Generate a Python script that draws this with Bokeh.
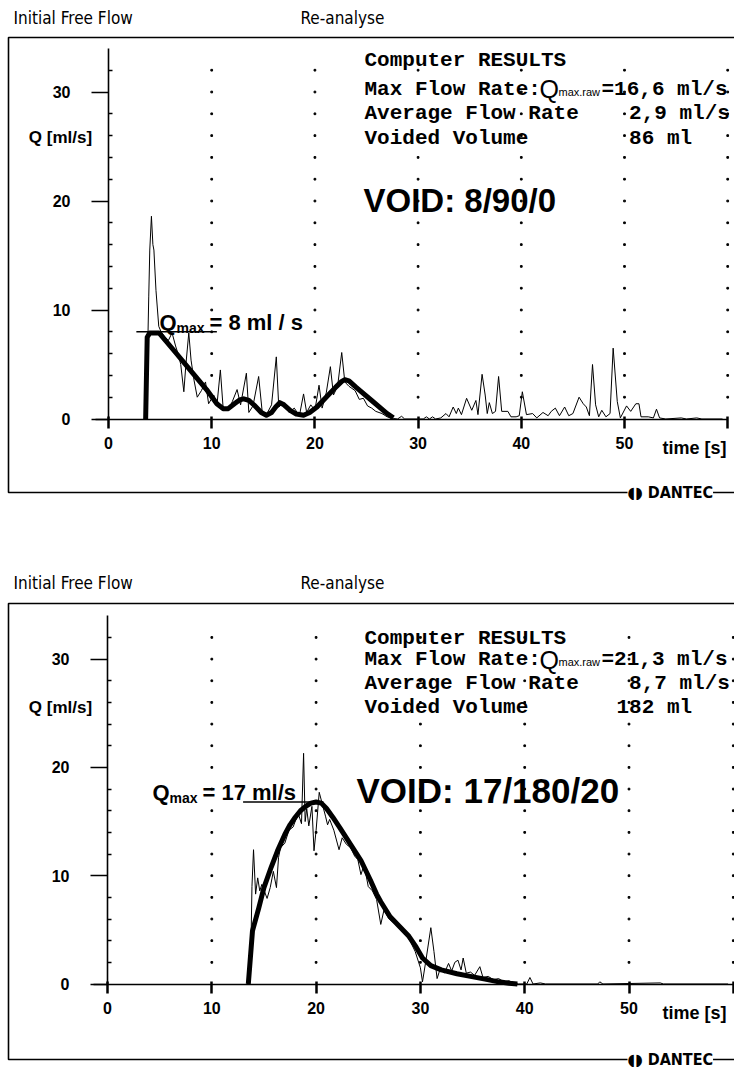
from bokeh.plotting import figure
from bokeh.layouts import column
from bokeh.models import Label, FixedTicker, Range1d, BoxAnnotation
from bokeh.embed import file_html
from bokeh.resources import INLINE

# ---------------- data: panel 1 (VOID 8/90/0) ----------------
raw1_t = [3.5, 3.7, 3.8, 3.9, 4.0, 4.16, 4.3, 4.4, 4.6, 4.87, 5.1, 5.4, 5.8, 6.16, 6.5, 6.8,
          7.0, 7.3, 7.5, 7.78, 8.0, 8.3, 8.6, 9.0, 9.4, 9.7, 10.2, 10.5, 10.84, 11.1, 11.6,
          12.0, 12.46, 12.8, 13.36, 13.6, 14.0, 14.55, 14.9, 15.3, 15.8, 16.26, 16.5, 17.0,
          17.5, 18.0, 18.5, 18.9, 19.2, 19.6, 20.0, 20.4, 20.7, 21.1, 21.5, 21.8, 22.2, 22.6,
          22.9, 23.3, 23.9, 24.3, 24.7, 25.1, 25.5, 25.9, 26.5, 27.0, 27.6, 28.0, 28.4, 28.7,
          30.5, 30.8, 31.1, 31.4, 31.7, 32.2, 32.7, 33.0, 33.4, 33.7, 33.9, 34.2, 34.7, 35.2,
          35.6, 35.8, 36.2, 36.5, 36.7, 36.9, 37.2, 37.5, 37.8, 38.1, 38.7, 39.0, 39.5, 39.8,
          40.1, 40.5, 41.1, 41.5, 42.1, 42.6, 42.9, 43.3, 43.7, 44.2, 44.6, 45.0, 45.6, 46.0,
          46.3, 46.6, 46.9, 47.2, 47.5, 47.8, 48.2, 48.6, 48.9, 49.3, 49.6, 50.2, 50.6, 51.1,
          51.4, 51.6, 52.3, 52.8, 53.1, 53.4, 54.0, 55.5, 56.0, 57.0, 57.5, 59.5]
raw1_q = [0.0, 0.3, 6.5, 11.2, 15.5, 18.6, 16.0, 15.5, 11.8, 8.5, 8.0, 7.6, 7.2, 7.9, 6.7, 5.8,
          5.0, 2.5, 5.0, 7.9, 5.4, 3.5, 2.0, 2.6, 3.4, 1.4, 2.2, 1.2, 4.5, 1.1, 0.8,
          1.6, 2.7, 1.3, 4.2, 0.6, 1.2, 3.9, 0.6, 0.4, 1.3, 5.7, 1.1, 1.5,
          0.6, 1.0, 0.3, 2.3, 0.6, 1.3, 0.8, 3.1, 1.0, 2.4, 4.8, 2.2, 3.0, 6.1,
          3.4, 3.0, 2.6, 1.8, 1.9, 1.2, 1.0, 0.7, 0.5, 0.2, 0.05, 0.0, 0.25, 0.0,
          0.0, 0.2, 0.0, 0.2, 0.0, 0.1, 0.5, 0.2, 1.1, 0.5, 1.0, 0.4, 1.9, 0.8,
          1.7, 0.4, 4.1, 2.2, 0.5, 1.5, 0.5, 0.7, 3.9, 0.7, 0.7, 0.2, 0.2, 0.3,
          2.5, 0.4, 0.5, 0.1, 0.6, 0.3, 0.7, 1.0, 0.3, 1.1, 0.3, 0.5, 2.0, 1.4,
          1.1, 0.3, 5.0, 1.3, 0.2, 0.8, 0.2, 0.5, 6.5, 1.6, 0.1, 1.2, 0.7, 1.4,
          1.4, 0.2, 0.2, 0.1, 0.9, 0.1, 0.0, 0.1, 0.0, 0.1, 0.0, 0.0]
fit1_t = [3.6, 3.75, 4.0, 4.9, 6.5, 8.0, 9.5, 10.5, 11.1, 11.6, 12.2, 12.7, 13.1, 13.6, 14.2,
          14.8, 15.3, 15.8, 16.2, 16.6, 17.0, 17.6, 18.2, 18.9, 19.5, 20.2, 21.0, 22.0, 22.6,
          22.9, 23.3, 24.0, 25.5, 27.0, 27.6]
fit1_q = [0.0, 7.5, 7.9, 7.9, 6.1, 4.4, 2.7, 1.4, 0.95, 0.95, 1.4, 1.75, 1.85, 1.7, 1.2,
          0.6, 0.35, 0.6, 1.1, 1.5, 1.3, 0.8, 0.45, 0.35, 0.6, 1.1, 1.9, 2.9, 3.45,
          3.6, 3.5, 2.9, 1.7, 0.5, 0.1]
qmax1_t = [2.7, 10.5]
qmax1_q = [8.0, 8.0]

# ---------------- data: panel 2 (VOID 17/180/20) ----------------
raw2_t = [13.4, 13.7, 13.85, 14.0, 14.2, 14.4, 14.6, 14.8, 15.3, 15.6, 15.9, 16.2, 16.4, 16.6,
          17.0, 17.4, 17.8, 18.1, 18.3, 18.6, 18.8, 18.95, 19.1, 19.3, 19.6, 19.8, 20.0, 20.3,
          20.6, 20.9, 21.1, 21.3, 21.7, 22.2, 22.5, 22.9, 23.3, 23.7, 24.0, 24.3, 24.6, 25.0,
          25.4, 25.8, 26.2, 26.5, 27.0, 27.5, 28.0, 28.5, 29.0, 29.5, 30.0, 30.2, 30.5, 31.0,
          31.3, 31.6, 31.9, 32.3, 32.7, 33.0, 33.3, 33.6, 33.9, 34.1, 34.4, 34.8, 35.2, 35.7,
          36.0, 36.5, 37.0, 37.5, 38.0, 38.5, 39.0, 39.4, 40.2, 40.5, 40.8, 41.5, 42.0, 47.0,
          47.2, 47.5, 53.0, 53.3, 59.5]
raw2_q = [0.0, 0.5, 9.0, 12.4, 8.3, 9.8, 8.6, 9.2, 7.9, 8.9, 10.4, 8.9, 11.7, 12.6,
          13.0, 14.2, 14.5, 15.3, 15.7, 14.8, 21.3, 15.0, 16.2, 14.6, 16.4, 12.3, 14.2, 17.7,
          16.6, 15.5, 14.7, 15.2, 14.2, 12.4, 13.5, 12.9, 12.6, 11.8, 11.5, 10.1, 11.0, 9.0,
          8.6, 7.8, 5.5, 6.8, 6.0, 5.6, 5.1, 4.7, 4.0, 3.0, 1.5, 0.2, 2.0, 5.2,
          3.0, 0.5, 1.4, 1.0, 1.9, 1.2, 2.0, 2.2, 1.3, 2.4, 1.0, 1.1, 0.8, 1.6,
          0.6, 0.7, 0.4, 0.5, 0.2, 0.3, 0.1, 0.0, 0.0, 0.6, 0.0, 0.1, 0.0, 0.0,
          0.2, 0.0, 0.1, 0.0, 0.0]
fit2_t = [13.5, 13.9, 14.5, 15.0, 15.7, 16.3, 17.0, 17.5, 18.0, 18.5, 19.0, 19.5, 20.0, 20.5,
          21.0, 21.6, 22.3, 23.3, 24.3, 25.2, 25.8, 26.2, 27.1, 28.0, 28.9, 29.6, 30.2, 31.0,
          32.0, 33.5, 34.8, 36.2, 37.5, 38.5, 39.3]
fit2_q = [0.0, 4.9, 7.0, 8.9, 10.8, 12.3, 13.8, 14.7, 15.4, 16.0, 16.4, 16.7, 16.8, 16.7,
          16.2, 15.4, 14.4, 12.9, 11.4, 9.6, 8.3, 7.6, 6.2, 5.3, 4.4, 3.4, 2.4, 1.7,
          1.3, 0.95, 0.7, 0.45, 0.2, 0.07, 0.0]
qmax2_t = [13.0, 20.7]
qmax2_q = [16.8, 16.8]

# ---------------- tick / text content ----------------
x_ticks = [0, 10, 20, 30, 40, 50, 60]
y_ticks = [0, 10, 20, 30]
y_minor = [2, 4, 6, 8, 12, 14, 16, 18, 22, 24, 26, 28, 32]
grid_t = [10, 20, 30, 40, 50, 60]
grid_q = [2, 4, 6, 8, 10, 12, 14, 16, 18, 20, 22, 24, 26, 28, 30, 32]

panels = [
    dict(raw_t=raw1_t, raw_q=raw1_q, fit_t=fit1_t, fit_q=fit1_q, qm_t=qmax1_t, qm_q=qmax1_q,
         qmax_text="= 8 ml / s", maxraw="=16,6 ml/s", avg="2,9 ml/s", vol="86 ml",
         void="VOID: 8/90/0", void_size=33,
         X0=108.0, SX=10.32, Y0=418.5, SY=10.9, fig_top=0, H=568, btop=37, bbot=492,
         rows=[60.0, 88.5, 113.0, 138.0], vol_x=628.6, void_x=363, void_y=200,
         qm_x=159, qm_y=322, ylab_y=137, xlab_y=447, head_y=17),
    dict(raw_t=raw2_t, raw_q=raw2_q, fit_t=fit2_t, fit_q=fit2_q, qm_t=qmax2_t, qm_q=qmax2_q,
         qmax_text="= 17 ml/s", maxraw="=21,3 ml/s", avg="8,7 ml/s", vol="182 ml",
         void="VOID: 17/180/20", void_size=35,
         X0=107.0, SX=10.43, Y0=983.5, SY=10.83, fig_top=568, H=500, btop=603, bbot=1059,
         rows=[638.0, 659.0, 683.0, 707.0], vol_x=616.0, void_x=356, void_y=790,
         qm_x=152, qm_y=792, ylab_y=707, xlab_y=1012, head_y=582.5),
]

MONO = "Liberation Mono, Courier New, monospace"
SANS = "Liberation Sans, Arial, sans-serif"
COND = "DejaVu Sans Condensed, Liberation Sans Narrow, DejaVu Sans, sans-serif"

WIDTH = 734


def build(pp):
    X0, SX, Y0, SY = pp["X0"], pp["SX"], pp["Y0"], pp["SY"]

    def dx(px):
        return (px - X0) / SX

    def dy(py):
        return (Y0 - py) / SY

    p = figure(width=WIDTH, height=pp["H"], output_backend="svg", toolbar_location=None,
               x_range=Range1d(dx(0), dx(WIDTH)),
               y_range=Range1d(dy(pp["fig_top"] + pp["H"]), dy(pp["fig_top"])),
               min_border_left=0, min_border_right=0, min_border_top=0, min_border_bottom=0,
               background_fill_color="white", border_fill_color="white")
    p.outline_line_color = None
    p.xgrid.visible = False
    p.ygrid.visible = False

    # panel box (frame of the printout)
    p.add_layout(BoxAnnotation(left=dx(8), right=dx(WIDTH + 20), top=dy(pp["btop"]),
                               bottom=dy(pp["bbot"]), fill_color=None, fill_alpha=0,
                               line_color="black", line_alpha=1.0, line_width=1.6,
                               level="underlay"))

    # axes inside the frame
    xa = p.xaxis[0]
    xa.fixed_location = 0
    xa.bounds = (-1.3, 60)
    xa.ticker = FixedTicker(ticks=x_ticks)
    xa.major_label_overrides = {60: ""}
    xa.axis_line_width = 1.6
    xa.major_tick_out = 9
    xa.major_tick_in = 3
    xa.major_tick_line_width = 2.5
    xa.minor_tick_out = 0
    xa.minor_tick_in = 0
    xa.major_label_standoff = 9
    xa.major_label_text_font = SANS
    xa.major_label_text_font_style = "bold"
    xa.major_label_text_font_size = "16px"
    xa.major_label_text_color = "black"

    ya = p.yaxis[0]
    ya.fixed_location = 0
    ya.bounds = (0, 34)
    ya.ticker = FixedTicker(ticks=y_ticks, minor_ticks=y_minor)
    ya.axis_line_width = 1.6
    ya.major_tick_out = 17
    ya.major_tick_in = 0
    ya.major_tick_line_width = 1.6
    ya.minor_tick_out = 0
    ya.minor_tick_in = 4
    ya.minor_tick_line_width = 1.3
    ya.major_label_standoff = 21
    ya.major_label_text_font = SANS
    ya.major_label_text_font_style = "bold"
    ya.major_label_text_font_size = "16px"
    ya.major_label_text_color = "black"

    # dotted grid columns
    gx = [t for t in grid_t for _ in grid_q]
    gy = [q for _ in grid_t for q in grid_q]
    p.scatter(gx, gy, marker="square", size=1.7, color="black")

    # curves
    p.line(pp["raw_t"], pp["raw_q"], line_color="black", line_width=1.0)
    p.line(pp["fit_t"], pp["fit_q"], line_color="black", line_width=5.0, line_join="round")
    p.line(pp["qm_t"], pp["qm_q"], line_color="black", line_width=1.6)

    def lab(px, py, text, font, size, style="normal", align="left", bg=None):
        kw = {}
        if bg is not None:
            kw = dict(background_fill_color=bg, background_fill_alpha=1.0)
        p.add_layout(Label(x=dx(px), y=dy(py), text=text, text_font=font,
                           text_font_size=f"{size}px", text_font_style=style,
                           text_align=align, text_baseline="middle", text_color="black", **kw))

    # header above the box
    lab(13, pp["head_y"], "Initial Free Flow", COND, 17)
    lab(300, pp["head_y"], "Re-analyse", COND, 17)

    # axis titles
    lab(60, pp["ylab_y"], "Q [ml/s]", SANS, 17, "bold", align="center")
    lab(694, pp["xlab_y"], "time [s]", SANS, 18, "bold", align="center")

    # results block
    r = pp["rows"]
    lab(364, r[0], "Computer RESULTS", MONO, 21, "bold")
    lab(364, r[1], "Max Flow Rate:", MONO, 21, "bold")
    lab(539, r[1], "Q", SANS, 25)
    lab(558, r[1] + 2.5, "max.raw", SANS, 11)
    lab(601, r[1], pp["maxraw"], MONO, 21, "bold")
    lab(364, r[2], "Average Flow Rate", MONO, 21, "bold")
    lab(628.6, r[2], pp["avg"], MONO, 21, "bold")
    lab(364, r[3], "Voided Volume", MONO, 21, "bold")
    lab(pp["vol_x"], r[3], pp["vol"], MONO, 21, "bold")

    # VOID code
    lab(pp["void_x"], pp["void_y"], pp["void"], SANS, pp["void_size"], "bold")

    # Qmax annotation
    qx, qy = pp["qm_x"], pp["qm_y"]
    lab(qx, qy, "Q", SANS, 22, "bold")
    lab(qx + 17, qy + 5, "max", SANS, 14, "bold")
    lab(qx + 50, qy, pp["qmax_text"], SANS, 22, "bold")

    # DANTEC mark on the lower border
    lab(627, pp["bbot"], "\u25d6\u25d7 DANTEC", COND, 16, "bold", bg="white")
    return p


figs = [build(pp) for pp in panels]
layout = column(*figs, spacing=0)
open("out.html", "w").write(file_html(layout, INLINE))
